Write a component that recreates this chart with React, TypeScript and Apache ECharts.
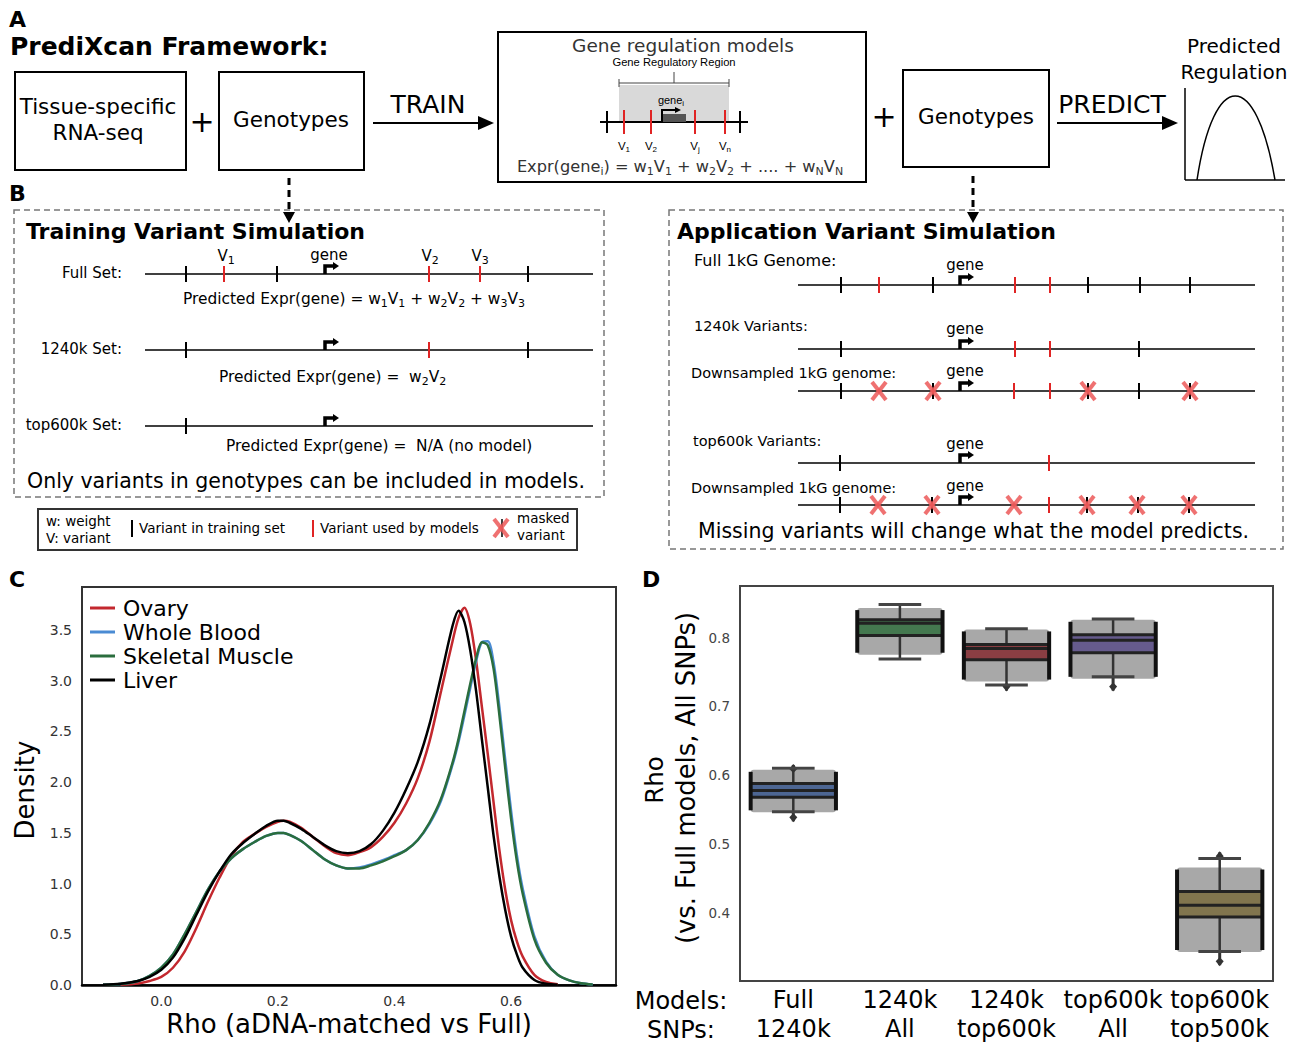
import React, { useEffect, useRef } from "react";
import * as echarts from "echarts";

const FONT = "DejaVu Sans";
const ARIAL = "Liberation Sans";

// ---------------- Panel C : density curves ----------------
const seriesNames = ["Ovary", "Whole Blood", "Skeletal Muscle", "Liver"];
const seriesColors = ["#c3282e", "#4a8bd3", "#2a6d3d", "#000000"];
const rhoGrid = [
  -0.1, -0.07, -0.04, -0.02, 0, 0.02, 0.04, 0.06, 0.08, 0.1, 0.12, 0.14, 0.16, 0.18, 0.2, 0.21, 0.22,
  0.24, 0.26, 0.28, 0.3, 0.32, 0.34, 0.36, 0.38, 0.4, 0.42, 0.44, 0.46, 0.48, 0.5, 0.51, 0.52, 0.53,
  0.54, 0.55, 0.56, 0.57, 0.58, 0.59, 0.6, 0.61, 0.62, 0.64, 0.66, 0.68, 0.7, 0.72, 0.74, 0.76,
];
const ovary = [
  null, 0.003, 0.015, 0.04, 0.08, 0.17, 0.33, 0.56, 0.82, 1.06, 1.27, 1.41, 1.49, 1.56, 1.61, 1.62, 1.61,
  1.55, 1.46, 1.37, 1.3, 1.28, 1.31, 1.36, 1.46, 1.6, 1.79, 2.04, 2.4, 2.9, 3.4, 3.62, 3.72, 3.56,
  3.2, 2.74, 2.28, 1.8, 1.33, 0.94, 0.64, 0.43, 0.28, 0.1, 0.03, 0.007, null, null, null, null,
];
const wholeBlood = [
  0.002, 0.01, 0.04, 0.09, 0.17, 0.3, 0.5, 0.72, 0.94, 1.12, 1.25, 1.34, 1.41, 1.47, 1.5, 1.5, 1.48,
  1.42, 1.33, 1.24, 1.18, 1.15, 1.16, 1.19, 1.23, 1.28, 1.33, 1.43, 1.59, 1.82, 2.18, 2.4, 2.66, 2.93,
  3.19, 3.38, 3.39, 3.18, 2.74, 2.22, 1.72, 1.28, 0.95, 0.48, 0.23, 0.1, 0.045, 0.018, 0.006, null,
];
const skeletalMuscle = [
  0.002, 0.01, 0.04, 0.09, 0.17, 0.3, 0.5, 0.72, 0.94, 1.12, 1.25, 1.34, 1.41, 1.47, 1.5, 1.5, 1.48,
  1.42, 1.33, 1.24, 1.18, 1.15, 1.15, 1.18, 1.22, 1.27, 1.33, 1.43, 1.6, 1.84, 2.2, 2.43, 2.7, 2.97,
  3.22, 3.38, 3.35, 3.12, 2.66, 2.14, 1.64, 1.22, 0.9, 0.45, 0.22, 0.1, 0.045, 0.018, 0.006, null,
];
const liver = [
  0.003, 0.012, 0.04, 0.08, 0.15, 0.27, 0.46, 0.69, 0.92, 1.12, 1.29, 1.4, 1.49, 1.57, 1.62, 1.62, 1.6,
  1.54, 1.46, 1.38, 1.32, 1.3, 1.32, 1.39, 1.52, 1.7, 1.93, 2.2, 2.57, 3.05, 3.55, 3.69, 3.58, 3.3,
  2.9, 2.42, 1.95, 1.47, 1.07, 0.74, 0.48, 0.3, 0.17, 0.05, 0.012, 0.003, null, null, null, null,
];
const densitySeries = [ovary, wholeBlood, skeletalMuscle, liver];
const rhoTicks = [0, 0.2, 0.4, 0.6];
const densityTicks = [0, 0.5, 1, 1.5, 2, 2.5, 3, 3.5];

// ---------------- Panel D : box + swarm ----------------
const models = ["Full", "1240k", "1240k", "top600k", "top600k"];
const snps = ["1240k", "All", "top600k", "All", "top500k"];
const boxColors = ["#3d5a8f", "#33703f", "#852c31", "#5a4e88", "#7a6c3e"];
const whiskerLow = [0.547, 0.769, 0.731, 0.743, 0.344];
const q1 = [0.568, 0.803, 0.768, 0.778, 0.394];
const median = [0.578, 0.821, 0.784, 0.796, 0.411];
const q3 = [0.588, 0.826, 0.79, 0.804, 0.431];
const whiskerHigh = [0.61, 0.848, 0.813, 0.827, 0.479];
const swarmLow = [0.549, 0.778, 0.739, 0.743, 0.346];
const swarmHigh = [0.605, 0.84, 0.809, 0.823, 0.463];
const outlierLow = [0.533, null, 0.723, 0.723, 0.324];
const outlierHigh = [0.615, null, null, null, 0.488];
const rhoDTicks = [0.4, 0.5, 0.6, 0.7, 0.8];

function buildGraphics() {
  const g: any[] = [];
  const text = (x: number, y: number, t: string, size: number, o: any = {}) =>
    g.push({
      type: "text", x, y, rotation: o.rot || 0, silent: true,
      style: {
        text: t, fill: o.color || "#000", fontSize: size, fontFamily: o.family || FONT,
        fontWeight: o.bold ? "bold" : "normal", align: o.align || "left", verticalAlign: "middle",
      },
    });
  const rich = (x: number, y: number, parts: any[], size: number, o: any = {}) => {
    const t = parts.map((p) => (typeof p === "string" ? `{n|${p}}` : `{s|${p[0]}}`)).join("");
    const fill = o.color || "#000";
    const fam = o.family || FONT;
    g.push({
      type: "text", x, y, silent: true,
      style: {
        text: t, align: o.align || "left", verticalAlign: "middle", fontSize: size, fontFamily: fam, fill,
        rich: {
          n: { fontSize: size, fontFamily: fam, fill, lineHeight: Math.round(size * 1.3) },
          s: { fontSize: Math.round(size * 0.7), fontFamily: fam, fill, lineHeight: Math.round(size * 0.75), verticalAlign: "bottom" },
        },
      },
    });
  };
  const ln = (x1: number, y1: number, x2: number, y2: number, stroke = "#000", w = 1.5, dash?: number[]) =>
    g.push({ type: "line", silent: true, shape: { x1, y1, x2, y2 }, style: { stroke, lineWidth: w, lineDash: dash } });
  const rc = (x: number, y: number, w: number, h: number, style: any) =>
    g.push({ type: "rect", silent: true, shape: { x, y, width: w, height: h }, style });
  const poly = (points: number[][], fill: string) =>
    g.push({ type: "polygon", silent: true, shape: { points }, style: { fill } });
  const arrowR = (x1: number, x2: number, y: number) => {
    ln(x1, y, x2 - 10, y, "#000", 2);
    poly([[x2 - 16, y - 7], [x2, y], [x2 - 16, y + 7]], "#000");
  };
  const arrowD = (x: number, y1: number, y2: number) => {
    ln(x, y1, x, y2 - 9, "#000", 3, [7, 5]);
    poly([[x - 6, y2 - 11], [x + 6, y2 - 11], [x, y2]], "#000");
  };
  const gene = (x: number, y: number) => {
    g.push({
      type: "polyline", silent: true,
      shape: { points: [[x, y], [x, y - 8], [x + 9, y - 8]] },
      style: { stroke: "#000", lineWidth: 3.5, fill: null },
    });
    poly([[x + 8, y - 12], [x + 14, y - 8], [x + 8, y - 4]], "#000");
  };
  const maskX = (x: number, y: number) => {
    ln(x - 7, y - 9, x + 7, y + 9, "rgba(236,88,88,0.85)", 4);
    ln(x + 7, y - 9, x - 7, y + 9, "rgba(236,88,88,0.85)", 4);
  };
  const track = (y: number, x1: number, x2: number, black: number[], red: number[], masks: number[], geneX: number) => {
    ln(x1, y, x2, y, "#000", 1.5);
    black.forEach((bx) => ln(bx, y - 8, bx, y + 8, "#000", 2));
    red.forEach((rx) => ln(rx, y - 8, rx, y + 8, "#e02424", 2));
    masks.forEach((mx) => maskX(mx, y));
    gene(geneX, y);
  };

  // ---------- Panel A ----------
  text(9, 19, "A", 22, { bold: true });
  text(10, 46, "PrediXcan Framework:", 25, { bold: true });
  rc(15, 72, 171, 98, { fill: "none", stroke: "#000", lineWidth: 2 });
  text(98, 106, "Tissue-specific", 21.5, { align: "center" });
  text(98, 132, "RNA-seq", 21.5, { align: "center" });
  text(202, 121, "+", 30, { align: "center" });
  rc(219, 72, 145, 98, { fill: "none", stroke: "#000", lineWidth: 2 });
  text(291, 119, "Genotypes", 21.5, { align: "center" });
  text(428, 104, "TRAIN", 25, { align: "center" });
  arrowR(373, 494, 123);

  rc(498, 32, 368, 150, { fill: "none", stroke: "#000", lineWidth: 2 });
  text(683, 45, "Gene regulation models", 18.5, { align: "center", color: "#333" });
  text(674, 62, "Gene Regulatory Region", 11.2, { align: "center", family: ARIAL });
  rc(619, 85, 110, 37, { fill: "#d9d9d9" });
  ln(619, 83, 729, 83, "#444", 1);
  ln(619, 79, 619, 87, "#444", 1);
  ln(729, 79, 729, 87, "#444", 1);
  ln(674, 72, 674, 83, "#444", 1);
  ln(600, 122, 748, 122, "#000", 2);
  ln(607, 111, 607, 133, "#000", 2);
  ln(740, 111, 740, 133, "#000", 2);
  [624, 651, 695, 725].forEach((x) => ln(x, 110, x, 134, "#e02424", 2));
  rc(663, 114, 23, 8, { fill: "#555" });
  g.push({
    type: "polyline", silent: true,
    shape: { points: [[662, 122], [662, 110], [676, 110]] },
    style: { stroke: "#000", lineWidth: 2, fill: null },
  });
  poly([[675, 107], [681, 110], [675, 113]], "#000");
  rich(671, 100, ["gene", ["i"]], 11, { align: "center", family: ARIAL });
  rich(624, 146, ["V", ["1"]], 11.5, { align: "center", family: ARIAL });
  rich(651, 146, ["V", ["2"]], 11.5, { align: "center", family: ARIAL });
  rich(695, 146, ["V", ["j"]], 11.5, { align: "center", family: ARIAL });
  rich(725, 146, ["V", ["n"]], 11.5, { align: "center", family: ARIAL });
  rich(680, 166, ["Expr(gene", ["i"], ") = w", ["1"], "V", ["1"], " + w", ["2"], "V", ["2"], " + .... + w", ["N"], "V", ["N"]], 16.2, {
    align: "center", color: "#333",
  });

  text(884, 116, "+", 30, { align: "center" });
  rc(903, 70, 146, 97, { fill: "none", stroke: "#000", lineWidth: 2 });
  text(976, 116, "Genotypes", 21.5, { align: "center" });
  text(1112, 104, "PREDICT", 25, { align: "center" });
  arrowR(1057, 1178, 123);
  text(1234, 46, "Predicted", 20, { align: "center" });
  text(1234, 72, "Regulation", 20, { align: "center" });
  ln(1185, 88, 1185, 180, "#000", 1.5);
  ln(1185, 180, 1285, 180, "#000", 1.5);
  g.push({
    type: "bezierCurve", silent: true,
    shape: { x1: 1197, y1: 180, cpx1: 1214, cpy1: 68, cpx2: 1256, cpy2: 68, x2: 1275, y2: 180 },
    style: { stroke: "#000", lineWidth: 1.5, fill: null },
  });
  arrowD(289, 178, 223);
  arrowD(973, 176, 223);

  // ---------- Panel B ----------
  text(9, 193, "B", 22, { bold: true });
  rc(14, 210, 590, 287, { fill: "none", stroke: "#777", lineWidth: 1.5, lineDash: [6, 4] });
  rc(669, 210, 614, 339, { fill: "none", stroke: "#777", lineWidth: 1.5, lineDash: [6, 4] });
  text(26, 231, "Training Variant Simulation", 22, { bold: true });

  text(122, 273, "Full Set:", 15, { align: "right" });
  track(274, 145, 593, [186, 277, 528], [224, 429, 480], [], 325);
  text(329, 255, "gene", 15, { align: "center" });
  rich(226, 256, ["V", ["1"]], 15, { align: "center" });
  rich(430, 256, ["V", ["2"]], 15, { align: "center" });
  rich(480, 256, ["V", ["3"]], 15, { align: "center" });
  rich(183, 299, ["Predicted Expr(gene) = w", ["1"], "V", ["1"], " + w", ["2"], "V", ["2"], " + w", ["3"], "V", ["3"]], 15.4);

  text(122, 349, "1240k Set:", 15, { align: "right" });
  track(350, 145, 593, [186, 528], [429], [], 325);
  rich(219, 377, ["Predicted Expr(gene) =  w", ["2"], "V", ["2"]], 15.4);

  text(122, 425, "top600k Set:", 15, { align: "right" });
  track(426, 145, 593, [186], [], [], 325);
  text(226, 446, "Predicted Expr(gene) =  N/A (no model)", 15.4);
  text(27, 481, "Only variants in genotypes can be included in models.", 20.5);

  rc(38, 509, 539, 41, { fill: "none", stroke: "#333", lineWidth: 2 });
  text(46, 521, "w: weight", 13.5);
  text(46, 538, "V: variant", 13.5);
  ln(132, 520, 132, 537, "#000", 2);
  text(139, 528, "Variant in training set", 13.5);
  ln(313, 520, 313, 537, "#e02424", 2);
  text(320, 528, "Variant used by models", 13.5);
  ln(502, 519, 502, 537, "#000", 1.5);
  ln(494, 519, 508, 537, "rgba(236,88,88,0.85)", 4);
  ln(508, 519, 494, 537, "rgba(236,88,88,0.85)", 4);
  text(517, 518, "masked", 13.5);
  text(517, 535, "variant", 13.5);

  text(677, 231, "Application Variant Simulation", 22, { bold: true });
  text(694, 260, "Full 1kG Genome:", 16);
  track(285, 798, 1255, [841, 933, 1088, 1140, 1190], [879, 1015, 1050], [], 960);
  text(965, 265, "gene", 15, { align: "center" });
  text(694, 326, "1240k Variants:", 14.5);
  track(349, 798, 1255, [841, 1139], [1015, 1050], [], 960);
  text(965, 329, "gene", 15, { align: "center" });
  text(691, 373, "Downsampled 1kG genome:", 14.5);
  track(391, 798, 1255, [841, 933, 1088, 1139, 1190], [1014, 1050], [879, 933, 1088, 1190], 960);
  text(965, 371, "gene", 15, { align: "center" });
  text(693, 441, "top600k Variants:", 14.5);
  track(463, 798, 1255, [840], [1049], [], 960);
  text(965, 444, "gene", 15, { align: "center" });
  text(691, 488, "Downsampled 1kG genome:", 14.5);
  track(505, 798, 1255, [840, 932, 1087, 1138, 1189], [1049], [878, 932, 1014, 1087, 1137, 1189], 960);
  text(965, 486, "gene", 15, { align: "center" });
  text(698, 531, "Missing variants will change what the model predicts.", 20.5);

  // ---------- Panel C / D labels ----------
  text(9, 579, "C", 22, { bold: true });
  text(642, 579, "D", 22, { bold: true });
  text(25, 790, "Density", 26, { align: "center", rot: Math.PI / 2 });
  text(349, 1024, "Rho (aDNA-matched vs Full)", 26, { align: "center" });
  text(654, 780, "Rho", 24.5, { align: "center", rot: Math.PI / 2 });
  text(686, 778, "(vs. Full models, All SNPs)", 25.8, { align: "center", rot: Math.PI / 2 });
  text(681, 1001, "Models:", 24, { align: "center" });
  text(681, 1030, "SNPs:", 24, { align: "center" });
  return g;
}

export default function App() {
  const ref = useRef<HTMLDivElement>(null);
  useEffect(() => {
    if (!ref.current) return;
    const chart = echarts.init(ref.current, undefined, { renderer: "svg" });
    const fmt1 = (v: number) => Number(v).toFixed(1);
    const lineSeries = seriesNames.map((name, k) => ({
      type: "line",
      name,
      xAxisIndex: 0,
      yAxisIndex: 0,
      data: rhoGrid.map((x, i) => [x, densitySeries[k][i]]),
      smooth: 0.3,
      showSymbol: false,
      symbol: "none",
      connectNulls: false,
      lineStyle: { color: seriesColors[k], width: 2.5 },
      itemStyle: { color: seriesColors[k] },
      z: 3 + k,
    }));
    const boxSeries = {
      type: "custom",
      xAxisIndex: 1,
      yAxisIndex: 1,
      data: models.map((_, i) => [i, whiskerLow[i], whiskerHigh[i]]),
      encode: { x: 0, y: [1, 2] },
      renderItem: (params: any, api: any) => {
        const i = params.dataIndex;
        const cx = api.coord([i, 0.5])[0];
        const w = api.size([1, 0])[0] * 0.8;
        const Y = (v: number) => api.coord([i, v])[1];
        const ch: any[] = [];
        const L = (x1: number, y1: number, x2: number, y2: number, stroke: string, lw: number) =>
          ch.push({ type: "line", shape: { x1, y1, x2, y2 }, style: { stroke, lineWidth: lw } });
        const top = Y(swarmHigh[i]) - 2;
        const bot = Y(swarmLow[i]) + 2;
        ch.push({ type: "rect", shape: { x: cx - w / 2, y: top, width: w, height: bot - top, r: 3 }, style: { fill: "#a8a8a8" } });
        L(cx, Y(whiskerHigh[i]), cx, Y(q3[i]), "#333", 2.5);
        L(cx, Y(q1[i]), cx, Y(whiskerLow[i]), "#333", 2.5);
        if (outlierHigh[i] != null) {
          const yo = Y(outlierHigh[i] as number);
          L(cx, Y(whiskerHigh[i]), cx, yo, "#333", 3);
          ch.push({ type: "polygon", shape: { points: [[cx, yo - 1], [cx + 4, yo + 4], [cx, yo + 8], [cx - 4, yo + 4]] }, style: { fill: "#333" } });
        }
        if (outlierLow[i] != null) {
          const yo = Y(outlierLow[i] as number);
          L(cx, Y(whiskerLow[i]), cx, yo, "#333", 3);
          ch.push({ type: "polygon", shape: { points: [[cx, yo + 1], [cx + 4, yo - 4], [cx, yo - 8], [cx - 4, yo - 4]] }, style: { fill: "#333" } });
        }
        L(cx - w / 4, Y(whiskerHigh[i]), cx + w / 4, Y(whiskerHigh[i]), "#444", 3);
        L(cx - w / 4, Y(whiskerLow[i]), cx + w / 4, Y(whiskerLow[i]), "#444", 3);
        ch.push({
          type: "rect",
          shape: { x: cx - w / 2, y: Y(q3[i]), width: w, height: Y(q1[i]) - Y(q3[i]) },
          style: { fill: boxColors[i], opacity: 0.85 },
        });
        L(cx - w / 2, Y(q3[i]), cx + w / 2, Y(q3[i]), "#222", 3);
        L(cx - w / 2, Y(q1[i]), cx + w / 2, Y(q1[i]), "#222", 3);
        L(cx - w / 2, Y(median[i]), cx + w / 2, Y(median[i]), "#222", 3);
        L(cx - w / 2, Y(swarmHigh[i]), cx - w / 2, Y(swarmLow[i]), "#111", 4);
        L(cx + w / 2, Y(swarmHigh[i]), cx + w / 2, Y(swarmLow[i]), "#111", 4);
        return { type: "group", children: ch };
      },
    };
    const option: any = {
      animation: false,
      backgroundColor: "#fff",
      textStyle: { fontFamily: FONT },
      legend: {
        left: 90,
        top: 596,
        orient: "vertical",
        icon: "rect",
        itemWidth: 25,
        itemHeight: 3,
        itemGap: 0,
        padding: 0,
        selectedMode: false,
        textStyle: { fontSize: 22, fontFamily: FONT, color: "#000", lineHeight: 24, padding: [0, 0, 0, 3] },
        data: seriesNames,
      },
      grid: [
        { left: 82, top: 587, width: 534, height: 398, show: true, borderColor: "#333", borderWidth: 2 },
        { left: 740, top: 586, width: 533, height: 398, show: true, borderColor: "#444", borderWidth: 2 },
      ],
      xAxis: [
        {
          type: "value", gridIndex: 0, min: -0.136, max: 0.78,
          axisLine: { show: true, onZero: false, lineStyle: { color: "#000", width: 2.5 } },
          axisTick: { show: false }, splitLine: { show: false },
          axisLabel: { customValues: rhoTicks, formatter: fmt1, fontSize: 14, color: "#333", margin: 9, fontFamily: FONT },
        },
        {
          type: "category", gridIndex: 1,
          data: models.map((m, i) => `${m}\n${snps[i]}`),
          axisLine: { show: false }, axisTick: { show: false }, splitLine: { show: false },
          axisLabel: { interval: 0, fontSize: 24, lineHeight: 29, color: "#000", margin: 4, fontFamily: FONT },
        },
      ],
      yAxis: [
        {
          type: "value", gridIndex: 0, min: 0, max: 3.925,
          axisLine: { show: false }, axisTick: { show: false }, splitLine: { show: false },
          axisLabel: { customValues: densityTicks, formatter: fmt1, fontSize: 14, color: "#333", margin: 10, fontFamily: FONT },
        },
        {
          type: "value", gridIndex: 1, min: 0.301, max: 0.875,
          axisLine: { show: false }, axisTick: { show: false }, splitLine: { show: false },
          axisLabel: { customValues: rhoDTicks, formatter: fmt1, fontSize: 13.5, color: "#444", margin: 10, fontFamily: FONT },
        },
      ],
      series: [...lineSeries, boxSeries],
      graphic: { elements: buildGraphics() },
    };
    chart.setOption(option);
    return () => chart.dispose();
  }, []);
  return (
    <div
      ref={ref}
      style={{ position: "absolute", left: 0, top: 0, width: 1305, height: 1043, background: "#fff" }}
    />
  );
}
